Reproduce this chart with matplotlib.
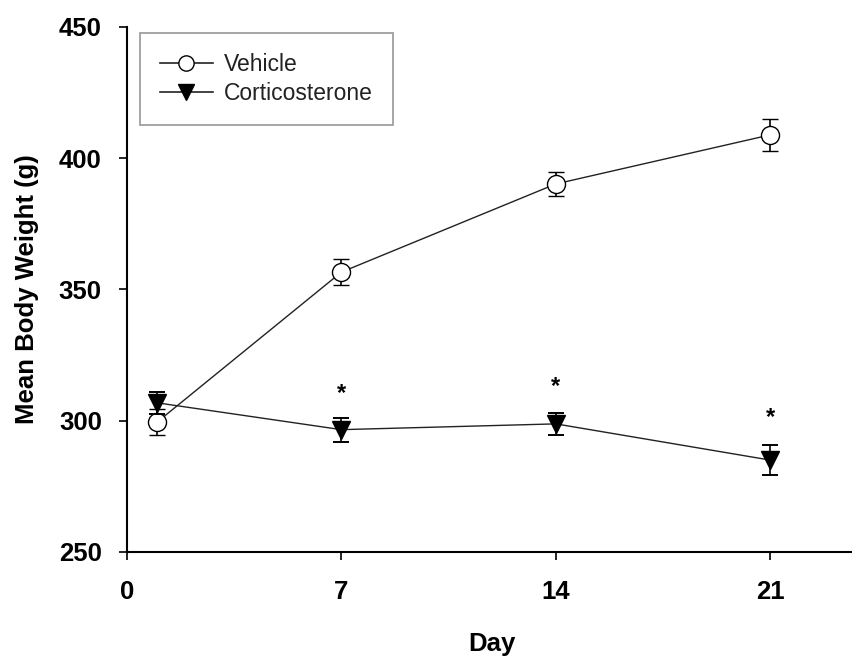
import numpy as np
import matplotlib.pyplot as plt
from matplotlib.lines import Line2D

plt.rcParams['font.family'] = ['Liberation Sans', 'DejaVu Sans']

# Data
days = [1, 7, 14, 21]
vehicle_mean = [299.6, 356.6, 390.2, 408.9]
vehicle_sem = [5.0, 4.9, 4.6, 6.2]
cort_mean = [306.8, 296.6, 298.8, 285.0]
cort_sem = [4.2, 4.6, 4.2, 5.7]
star_days = [7, 14, 21]
star_y = [310.2, 312.9, 301.2]

fig = plt.figure(figsize=(8.53, 6.64), dpi=100)
ax = fig.add_axes([0.1487, 0.1687, 0.855, 0.7907])

ax.errorbar(days, vehicle_mean, yerr=vehicle_sem, color='#222222', lw=1,
            marker='o', ms=13, mfc='white', mec='black', mew=1,
            ecolor='black', elinewidth=1.2, capsize=6, capthick=1.4, zorder=3)
ax.errorbar(days, cort_mean, yerr=cort_sem, color='#222222', lw=1,
            marker='v', ms=13, mfc='black', mec='black',
            ecolor='black', elinewidth=1.2, capsize=6, capthick=1.4, zorder=4)

for d, y in zip(star_days, star_y):
    ax.text(d, y, '*', ha='center', va='center', fontsize=17, fontweight='bold')

ax.set_xlim(0, 23.8)
ax.set_ylim(250, 450)
ax.set_xticks([0, 7, 14, 21])
ax.set_yticks([250, 300, 350, 400, 450])

for s in ['top', 'right']:
    ax.spines[s].set_visible(False)
for s in ['left', 'bottom']:
    ax.spines[s].set_linewidth(1.5)

ax.tick_params(axis='both', direction='out', length=6, width=1.2, labelsize=18.5)
ax.tick_params(axis='x', pad=14)
ax.tick_params(axis='y', pad=12)
for lab in ax.get_xticklabels() + ax.get_yticklabels():
    lab.set_fontweight('bold')

ax.set_xlabel('Day', fontsize=18.5, fontweight='bold', labelpad=20)
ax.set_ylabel('Mean Body Weight (g)', fontsize=18.5, fontweight='bold', labelpad=14)

handles = [
    Line2D([], [], color='#222222', lw=1.2, marker='o', ms=11, mfc='white', mec='black'),
    Line2D([], [], color='#222222', lw=1.2, marker='v', ms=11, mfc='black', mec='black'),
]
leg = ax.legend(handles, ['Vehicle', 'Corticosterone'],
                loc='upper left', bbox_to_anchor=(0.018, 0.9886), fontsize=16.5,
                frameon=True, fancybox=False, edgecolor='#888888',
                handlelength=2.3, borderpad=0.88, labelspacing=0.25,
                handletextpad=0.5, borderaxespad=0)
leg.get_frame().set_linewidth(1.3)
for t in leg.get_texts():
    t.set_color('#222222')

fig.savefig('out.png', dpi=100)
